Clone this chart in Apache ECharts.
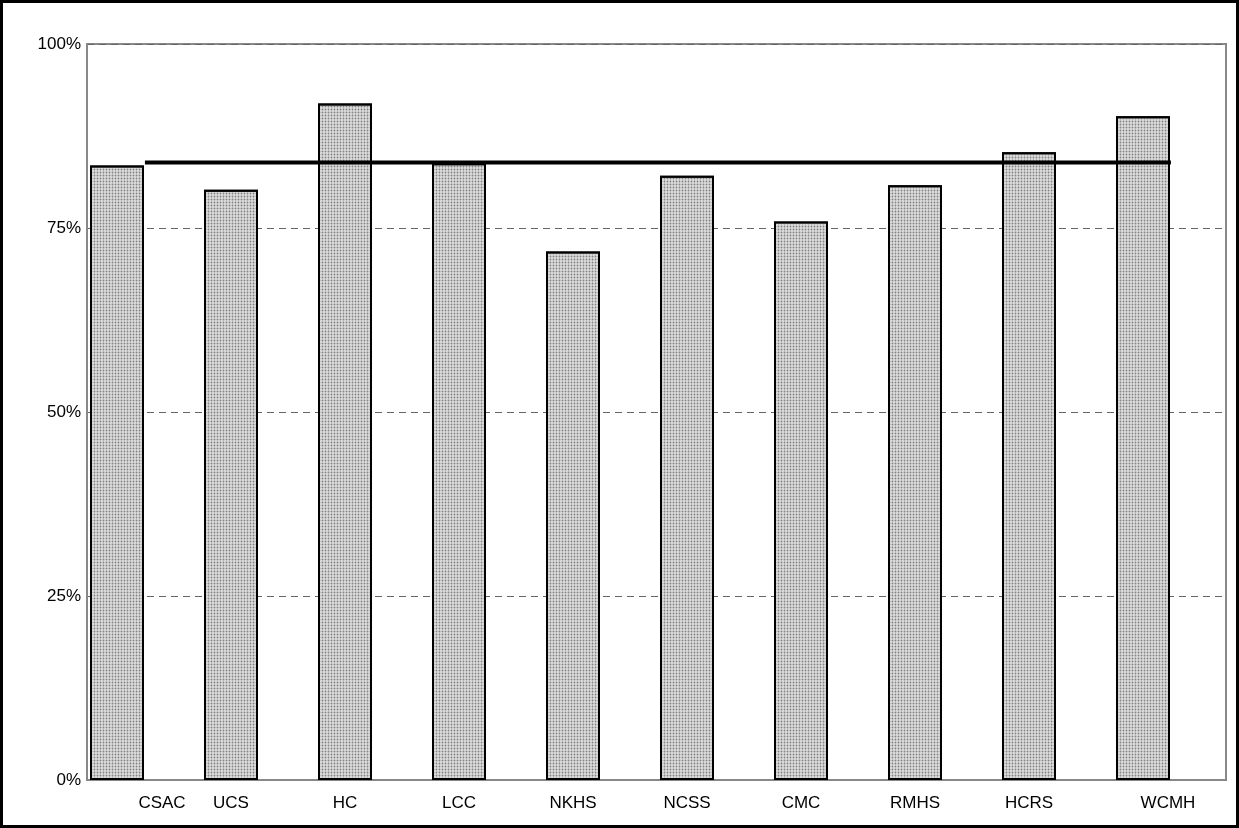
<!DOCTYPE html>
<html>
<head>
<meta charset="utf-8">
<script src="https://cdn.jsdelivr.net/npm/echarts@6/dist/echarts.min.js"></script>
<style>
  html, body { margin: 0; padding: 0; background: #fff; }
  #main { width: 1233px; height: 822px; border: 3px solid #000; }
</style>
</head>
<body>
<div id="main"></div>
<script>
// 类别与数值
var categories = ['CSAC', 'UCS', 'HC', 'LCC', 'NKHS', 'NCSS', 'CMC', 'RMHS', 'HCRS', 'WCMH'];
var values = [83.5, 80.2, 91.9, 83.8, 71.8, 82.1, 75.9, 80.8, 85.3, 90.2];
var average = 83.9;
var yTicks = [0, 25, 50, 75, 100];

var myChart = echarts.init(document.getElementById('main'));

// 平均线: 从第一根柱子右边到最后一根柱子右边
var n = categories.length;
var lineData = [[0.745, average], [n - 1 + 0.745, average]];

var yBase = {
	type: 'value', min: 0, max: 100, interval: 25,
	axisTick: { show: false }
};

myChart.setOption({
	animation: false,
	textStyle: { fontFamily: 'Liberation Sans, Arial, sans-serif' },
	grid: [
		// 外框 + y 轴
		{ left: 84, right: 10, top: 41, bottom: 45, show: true, borderColor: '#888', borderWidth: 2 },
		// 柱子所在区域 (偏左)
		{ left: 57, width: 1140, top: 41, bottom: 45 }
	],
	xAxis: [{
		type: 'category', gridIndex: 1,
		data: categories,
		axisLine: { show: false },
		axisTick: { show: false },
		axisLabel: {
			color: '#000', fontSize: 17, margin: 15, interval: 0, hideOverlap: false,
			// 首尾标签在原图中向右偏
			formatter: function (v, i) {
				if (i === 0) return '{first|' + v + '}';
				if (i === n - 1) return '{last|' + v + '}';
				return v;
			},
			rich: {
				first: { fontSize: 17, color: '#000', padding: [0, 0, 0, 90] },
				last: { fontSize: 17, color: '#000', padding: [0, 0, 0, 50] }
			}
		}
	}, {
		type: 'value', gridIndex: 1, min: 0, max: n, show: false
	}, {
		type: 'value', gridIndex: 0, min: 0, max: 1,
		axisLine: { lineStyle: { color: '#888', width: 2 } },
		axisTick: { show: false }, axisLabel: { show: false }, splitLine: { show: false }
	}],
	yAxis: [Object.assign({}, yBase, {
		gridIndex: 0,
		axisLine: { show: true, lineStyle: { color: '#888', width: 2 } },
		axisLabel: { color: '#000', fontSize: 17, margin: 6, formatter: function (v) { return yTicks.indexOf(v) >= 0 ? v + '%' : ''; } },
		splitLine: { lineStyle: { color: '#666', type: [7, 5], width: 1 } }
	}), Object.assign({}, yBase, {
		gridIndex: 1, show: false
	})],
	series: [{
		type: 'bar',
		xAxisIndex: 0, yAxisIndex: 1,
		data: values,
		barWidth: 54,
		itemStyle: {
			color: '#dedede', borderColor: '#000', borderWidth: 2,
			decal: { symbol: 'circle', symbolSize: 0.6, dashArrayX: [3, 0], dashArrayY: [3, 0], color: '#808080', rotation: 0 }
		}
	}, {
		type: 'line',
		xAxisIndex: 1, yAxisIndex: 1,
		data: lineData,
		symbol: 'none',
		lineStyle: { color: '#000', width: 4 }
	}]
});
</script>
</body>
</html>
